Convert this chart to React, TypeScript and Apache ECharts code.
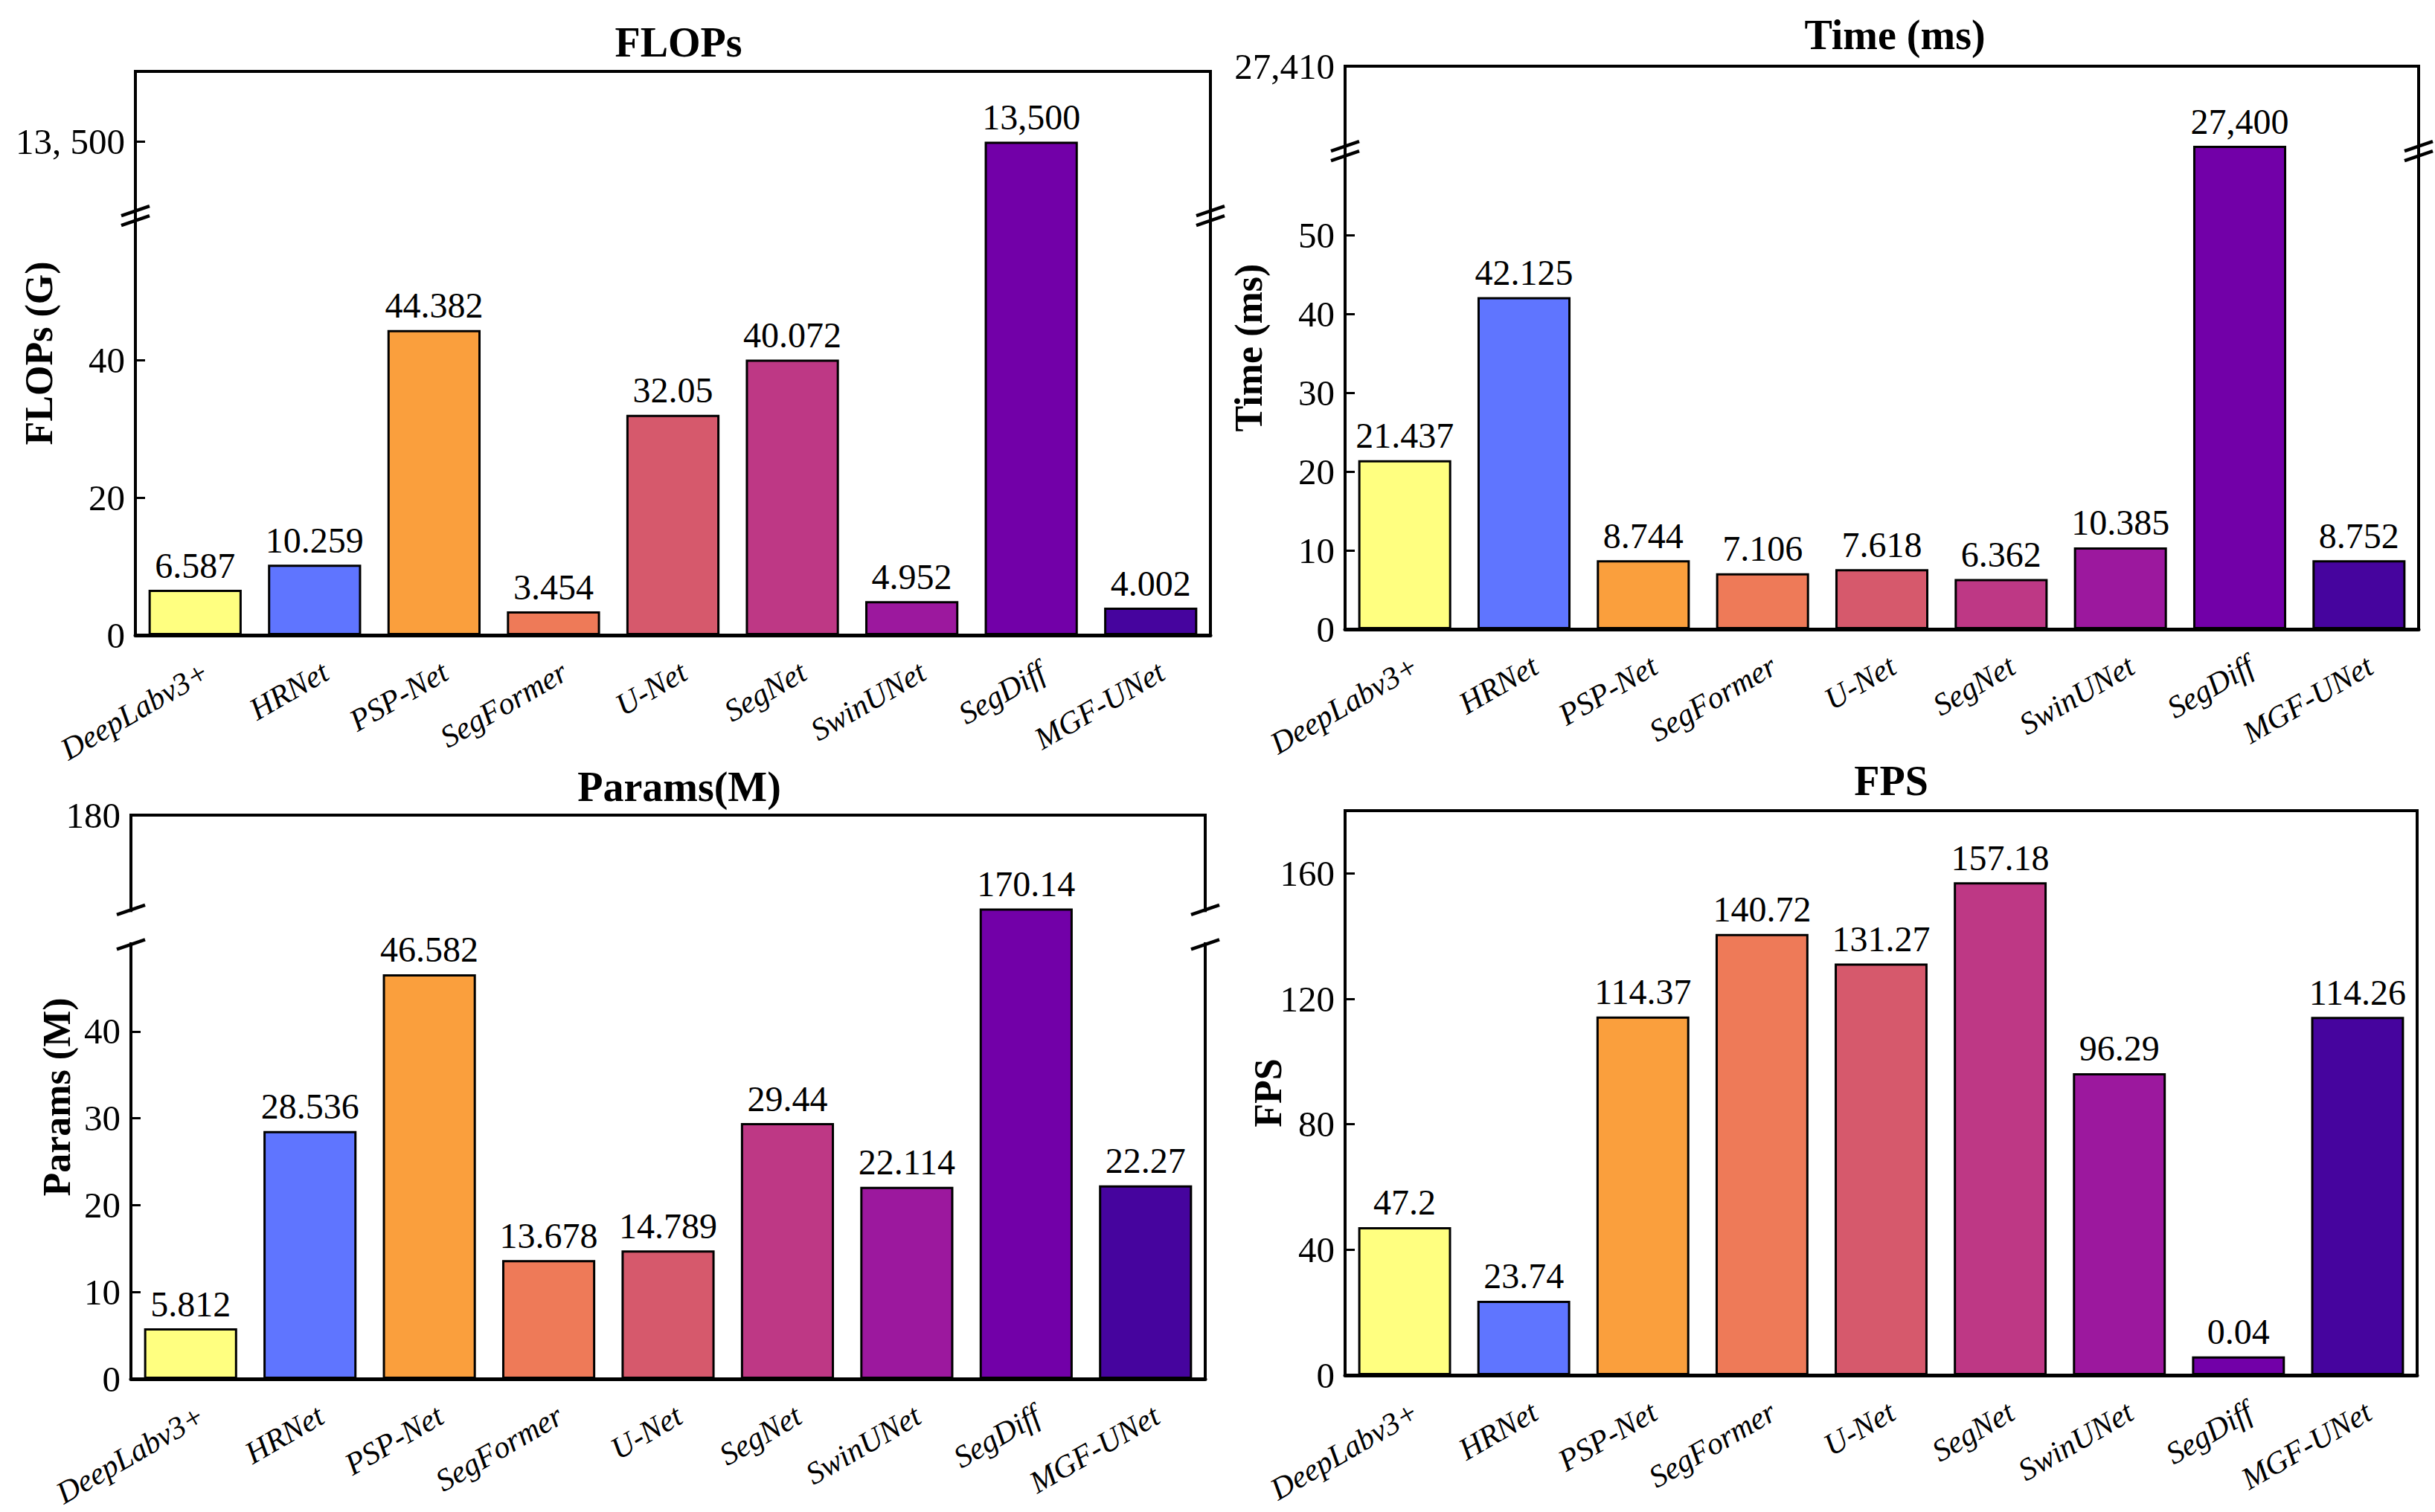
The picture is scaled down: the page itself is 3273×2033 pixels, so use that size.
import React, { useEffect, useRef } from 'react';
import * as echarts from 'echarts';

const categories = ['DeepLabv3+', 'HRNet', 'PSP-Net', 'SegFormer', 'U-Net', 'SegNet', 'SwinUNet', 'SegDiff', 'MGF-UNet'];
const barColors = ['#FFFF80', '#5F75FF', '#FA9F3D', '#EE7A58', '#D6596C', '#BE3885', '#9C189E', '#7200A8', '#46049E'];

const flopsValues = [6.587, 10.259, 44.382, 3.454, 32.05, 40.072, 4.952, 13500, 4.002];
const flopsLabels = ['6.587', '10.259', '44.382', '3.454', '32.05', '40.072', '4.952', '13,500', '4.002'];
const flopsTicks = [0, 20, 40, 13500];
const flopsTickLabels = ['0', '20', '40', '13, 500'];

const timeValues = [21.437, 42.125, 8.744, 7.106, 7.618, 6.362, 10.385, 27400, 8.752];
const timeLabels = ['21.437', '42.125', '8.744', '7.106', '7.618', '6.362', '10.385', '27,400', '8.752'];
const timeTicks = [0, 10, 20, 30, 40, 50, 27410];
const timeTickLabels = ['0', '10', '20', '30', '40', '50', '27,410'];

const paramsValues = [5.812, 28.536, 46.582, 13.678, 14.789, 29.44, 22.114, 170.14, 22.27];
const paramsLabels = ['5.812', '28.536', '46.582', '13.678', '14.789', '29.44', '22.114', '170.14', '22.27'];
const paramsTicks = [0, 10, 20, 30, 40, 180];
const paramsTickLabels = ['0', '10', '20', '30', '40', '180'];

// SegDiff's FPS bar is drawn about 6 units tall in the picture, labelled 0.04
const fpsValues = [47.2, 23.74, 114.37, 140.72, 131.27, 157.18, 96.29, 6, 114.26];
const fpsLabels = ['47.2', '23.74', '114.37', '140.72', '131.27', '157.18', '96.29', '0.04', '114.26'];
const fpsTicks = [0, 40, 80, 120, 160];
const fpsTickLabels = ['0', '40', '80', '120', '160'];

const FONT = '"Liberation Serif", "Times New Roman", serif';
const SPAN = 1000;

type Brk = { lowerMax: number; upperMin: number; upperMax: number; lowerFrac: number; gapFrac: number };

const flopsBreak: Brk = { lowerMax: 61, upperMin: 13400, upperMax: 13595, lowerFrac: 0.744, gapFrac: 0 };
const timeBreak: Brk = { lowerMax: 60.66, upperMin: 27399.35, upperMax: 27410, lowerFrac: 0.8494, gapFrac: 0 };
const paramsBreak: Brk = { lowerMax: 50, upperMin: 170, upperMax: 180, lowerFrac: 0.7705, gapFrac: 0.0615 };
const fpsScale: Brk = { lowerMax: 180, upperMin: 180, upperMax: 181, lowerFrac: 1, gapFrac: 0 };

function toAxis(v: number, b: Brk): number {
  if (v <= b.lowerMax) return (v / b.lowerMax) * b.lowerFrac * SPAN;
  const upFrac = 1 - b.lowerFrac - b.gapFrac;
  if (v < b.upperMin) return (b.lowerFrac + b.gapFrac / 2) * SPAN;
  return (b.lowerFrac + b.gapFrac + ((v - b.upperMin) / (b.upperMax - b.upperMin)) * upFrac) * SPAN;
}

type Panel = {
  left: number; top: number; width: number; height: number;
  title: string; titleX: number; titleY: number;
  yName: string; nameGap: number;
  values: number[]; labels: string[];
  brk: Brk; ticks: number[]; tickLabels: string[]; broken: boolean;
};

const panels: Panel[] = [
  { left: 182, top: 96, width: 1445, height: 758, title: 'FLOPs', titleX: 912, titleY: 57, yName: 'FLOPs (G)', nameGap: 104,
    values: flopsValues, labels: flopsLabels, brk: flopsBreak, ticks: flopsTicks, tickLabels: flopsTickLabels, broken: true },
  { left: 1808, top: 89, width: 1443, height: 757, title: 'Time (ms)', titleX: 2547, titleY: 47, yName: 'Time (ms)', nameGap: 104,
    values: timeValues, labels: timeLabels, brk: timeBreak, ticks: timeTicks, tickLabels: timeTickLabels, broken: true },
  { left: 176, top: 1096, width: 1444, height: 758, title: 'Params(M)', titleX: 913, titleY: 1058, yName: 'Params (M)', nameGap: 74,
    values: paramsValues, labels: paramsLabels, brk: paramsBreak, ticks: paramsTicks, tickLabels: paramsTickLabels, broken: true },
  { left: 1808, top: 1090, width: 1441, height: 759, title: 'FPS', titleX: 2542, titleY: 1050, yName: 'FPS', nameGap: 78,
    values: fpsValues, labels: fpsLabels, brk: fpsScale, ticks: fpsTicks, tickLabels: fpsTickLabels, broken: false },
];

function buildOption() {
  const grid: any[] = [];
  const xAxis: any[] = [];
  const yAxis: any[] = [];
  const series: any[] = [];
  const graphic: any[] = [];

  panels.forEach((p, i) => {
    grid.push({
      left: p.left, top: p.top, width: p.width, height: p.height,
      show: true, borderColor: '#000', borderWidth: 4, backgroundColor: 'transparent',
      containLabel: false, outerBoundsMode: 'none',
    });
    xAxis.push({
      type: 'category', gridIndex: i, data: categories,
      axisLine: { show: true, lineStyle: { color: '#000', width: 5 } },
      axisTick: { show: true, inside: true, alignWithLabel: true, length: 13, lineStyle: { color: '#000', width: 3 } },
      axisLabel: {
        interval: 0, rotate: 30, align: 'right', verticalAlign: 'top', lineHeight: 60, margin: 20,
        fontSize: 42, fontStyle: 'italic', fontFamily: FONT, color: '#000',
      },
      splitLine: { show: false },
    });
    const b = p.brk;
    const tv = p.ticks.map((t) => toAxis(t, b));
    const tl = p.tickLabels;
    yAxis.push({
      type: 'value', gridIndex: i, min: 0, max: SPAN,
      name: p.yName, nameLocation: 'middle', nameGap: p.nameGap, nameMoveOverlap: false,
      nameTextStyle: { fontSize: 52, fontWeight: 'bold', fontFamily: FONT, color: '#000' },
      axisLine: { show: false },
      splitLine: { show: false },
      axisTick: { show: true, inside: true, length: 13, customValues: tv, lineStyle: { color: '#000', width: 3 } },
      axisLabel: {
        show: true, customValues: tv, margin: 14, fontSize: 49, fontFamily: FONT, color: '#000',
        formatter: (val: number) => {
          let best = 0; let d = Infinity;
          tv.forEach((t, k) => { const dd = Math.abs(t - val); if (dd < d) { d = dd; best = k; } });
          return tl[best];
        },
      },
    });
    const labels = p.labels;
    series.push({
      type: 'bar', xAxisIndex: i, yAxisIndex: i, barWidth: '78%',
      data: p.values.map((v, k) => ({ value: toAxis(v, b), itemStyle: { color: barColors[k] } })),
      itemStyle: { borderColor: '#000', borderWidth: 3 },
      label: { show: true, position: 'top', distance: 9, fontSize: 48, fontFamily: FONT, color: '#000', formatter: (prm: any) => labels[prm.dataIndex] },
    });

    graphic.push({
      type: 'text', x: p.titleX, y: p.titleY, z: 60,
      style: { text: p.title, fontSize: 56, fontWeight: 'bold', fontFamily: FONT, fill: '#000', align: 'center', verticalAlign: 'middle', textAlign: 'center', textVerticalAlign: 'middle' },
    });

    if (p.broken) {
      const bottom = p.top + p.height;
      const xs = [p.left, p.left + p.width];
      const mark = (x: number, y: number) => ({
        type: 'line', z: 70,
        shape: { x1: x - 19, y1: y + 6.5, x2: x + 19, y2: y - 6.5 },
        style: { stroke: '#000', lineWidth: 4.5 },
      });
      if (b.gapFrac > 0) {
        const yLowTop = bottom - b.lowerFrac * p.height;
        const yUpBottom = bottom - (b.lowerFrac + b.gapFrac) * p.height;
        xs.forEach((x) => {
          graphic.push({ type: 'rect', z: 65, shape: { x: x - 7, y: yUpBottom + 3, width: 14, height: yLowTop - yUpBottom - 6 }, style: { fill: '#fff' } });
          graphic.push(mark(x, yUpBottom));
          graphic.push(mark(x, yLowTop));
        });
      } else {
        const yc = bottom - b.lowerFrac * p.height;
        xs.forEach((x) => {
          graphic.push(mark(x, yc - 6.5));
          graphic.push(mark(x, yc + 6.5));
        });
      }
    }
  });

  return { animation: false, backgroundColor: '#fff', grid, xAxis, yAxis, series, graphic };
}

export default function App() {
  const ref = useRef<HTMLDivElement>(null);
  useEffect(() => {
    if (!ref.current) return;
    const chart = echarts.init(ref.current, undefined, { renderer: 'svg' });
    chart.setOption(buildOption() as any);
    return () => chart.dispose();
  }, []);
  return <div ref={ref} style={{ position: 'absolute', left: 0, top: 0, width: 3273, height: 2033, background: '#fff' }} />;
}
